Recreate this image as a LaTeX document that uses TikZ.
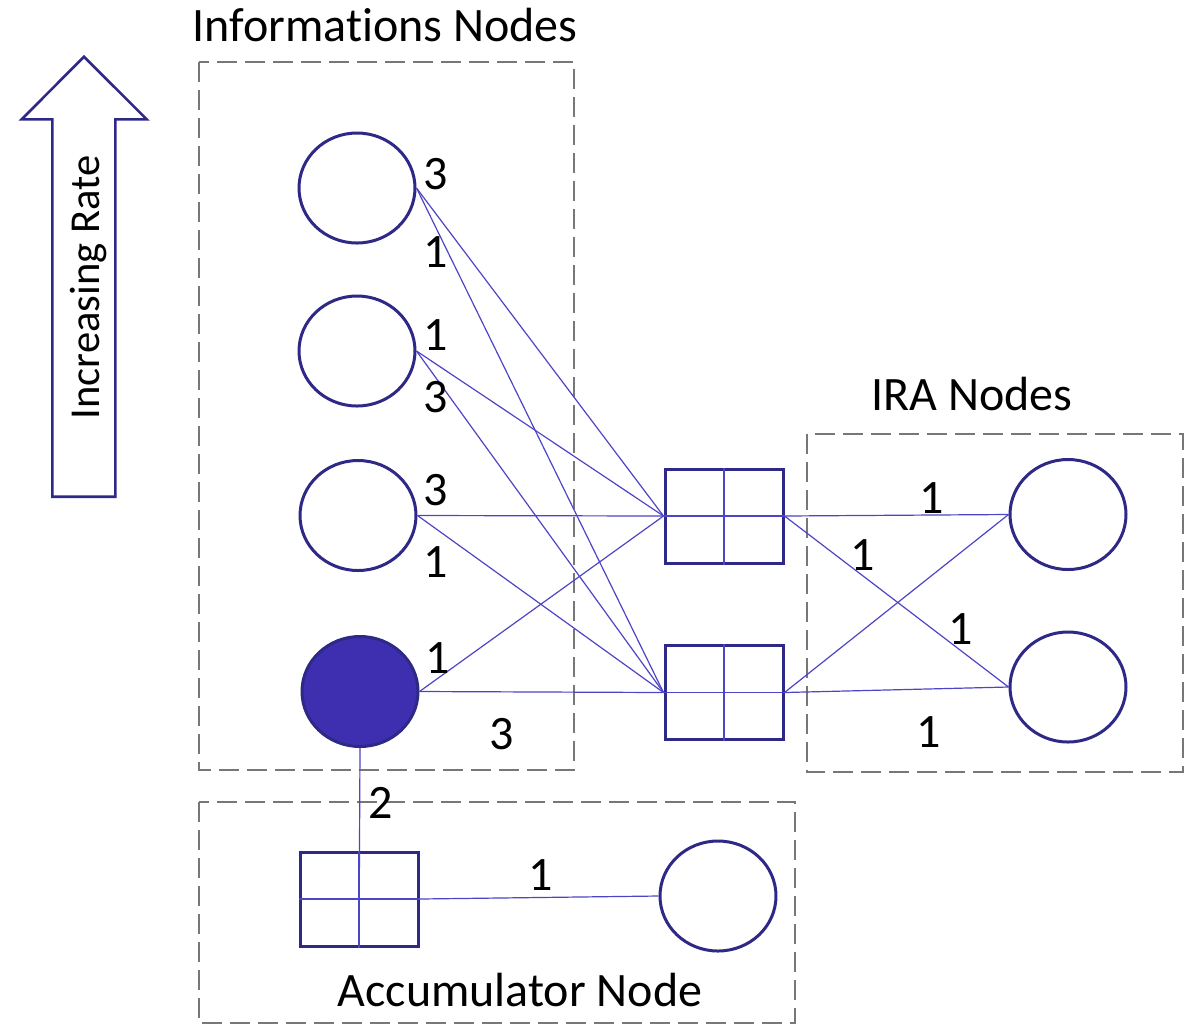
\documentclass[tikz,border=0pt]{standalone}
\usepackage{fontspec}
\setmainfont{Carlito}[Ligatures=NoCommon]
\usetikzlibrary{shapes.geometric}
\definecolor{navy}{HTML}{2E2886}
\definecolor{wirec}{HTML}{4D44C6}
\definecolor{solidc}{HTML}{3E2FB1}
\definecolor{frame}{HTML}{777777}
\begin{document}
\begin{tikzpicture}[x=0.5pt,y=-0.5pt,
  infonode/.style={ellipse, draw=navy, line width=1.5pt, minimum width=58pt,
    minimum height=55pt, inner sep=0pt, fill=white},
  checknode/.style={rectangle, draw=navy, line width=1.5pt, minimum width=59pt,
    minimum height=47pt, inner sep=0pt},
  wire/.style={draw=wirec, line width=0.6pt},
  group/.style={draw=frame, line width=1.35pt, dash pattern=on 10pt off 4pt},
  lbl/.style={font=\fontsize{24}{28}\selectfont, inner sep=0pt},
]
\useasboundingbox (0,0) rectangle (1195,1025);

% group frames
\draw[group] (199,62) rectangle (574,770);
\draw[group] (807,434) rectangle (1183,772);
\draw[group] (199,802) rectangle (795,1023);

% group titles
\node[lbl, anchor=base] (tinfo) at (385,41) {Informations Nodes};
\node[lbl, anchor=base] (tira) at (972,410) {IRA Nodes};
\node[lbl, anchor=base] (tacc) at (520,1006) {Accumulator Node};

% rate arrow
\draw[navy, line width=1.3pt, line join=miter] (52.3,496.7) -- (52.3,119.3) -- (21.7,119.3)
  -- (84,56.7) -- (146.7,119.3) -- (115.3,119.3) -- (115.3,496.7) -- cycle;
\node[font=\fontsize{21.3}{25}\selectfont, inner sep=0pt, rotate=90, anchor=base]
  (trate) at (99,287.5) {Increasing Rate};

% information nodes
\node[infonode] (i1) at (357,188) {};
\node[infonode] (i2) at (357,351) {};
\node[infonode] (i3) at (358,515.5) {};
\node[infonode, fill=solidc] (i4) at (360,691.5) {};

% check nodes
\node[checknode] (s1) at (724,516) {};
\node[checknode] (s2) at (724,692.5) {};
\node[checknode] (sa) at (359,899) {};

% IRA and accumulator nodes
\node[infonode] (r1) at (1068,514.5) {};
\node[infonode] (r2) at (1068,687) {};
\node[infonode] (ra) at (718,896) {};

% cross lines inside the check nodes
\foreach \s in {s1,s2,sa}{
  \draw[wire] (\s.west) -- (\s.east);
  \draw[wire] (\s.north) -- (\s.south);
}

% connectors
\draw[wire] (i1.east) -- (s1.west);
\draw[wire] (i1.east) -- (s2.west);
\draw[wire] (i2.east) -- (s1.west);
\draw[wire] (i2.east) -- (s2.west);
\draw[wire] (i3.east) -- (s1.west);
\draw[wire] (i3.east) -- (s2.west);
\draw[wire] (i4.east) -- (s1.west);
\draw[wire] (i4.east) -- (s2.west);
\draw[wire] (s1.east) -- (r1.west);
\draw[wire] (s1.east) -- (r2.west);
\draw[wire] (s2.east) -- (r1.west);
\draw[wire] (s2.east) -- (r2.west);
\draw[wire] (i4.south) -- (sa.south);
\draw[wire] (sa.east) -- (ra.west);

% edge degrees
\node[lbl] (d1a) at (436,174) {3};
\node[lbl] (d1b) at (435.5,252) {1};
\node[lbl] (d2a) at (435.5,335) {1};
\node[lbl] (d2b) at (436,397.5) {3};
\node[lbl] (d3a) at (436,490) {3};
\node[lbl] (d3b) at (435.5,562.5) {1};
\node[lbl] (d4a) at (437.5,658) {1};
\node[lbl] (d4b) at (502,734.5) {3};
\node[lbl] (e1) at (932,498) {1};
\node[lbl] (e2) at (863,555) {1};
\node[lbl] (e3) at (960.5,629.5) {1};
\node[lbl] (e4) at (928.5,731.7) {1};
\node[lbl] (ea) at (381,803) {2};
\node[lbl] (eb) at (540.5,875) {1};
\end{tikzpicture}
\end{document}
